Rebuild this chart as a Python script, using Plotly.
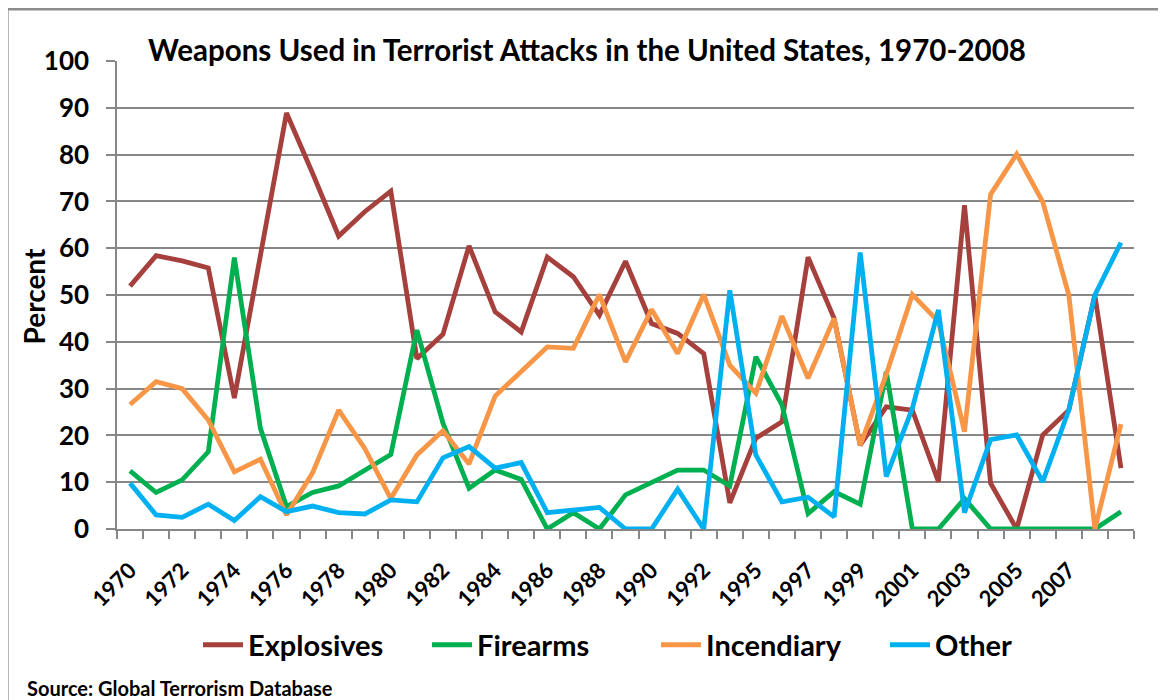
import plotly.graph_objects as go

# ---- data ----
n_points = 39
tick_labels = ["1970", "1972", "1974", "1976", "1978", "1980", "1982", "1984",
               "1986", "1988", "1990", "1992", "1995", "1997", "1999", "2001",
               "2003", "2005", "2007"]

explosives = [51.9, 58.4, 57.3, 55.8, 28.0, 58.0, 88.9, 76.0, 62.6, 67.8, 72.2, 36.4, 41.6,
              60.5, 46.4, 42.1, 58.1, 53.9, 45.7, 57.2, 43.9, 41.8, 37.5, 5.6, 19.4,
              22.9, 58.1, 45.0, 17.9, 26.1, 25.4, 10.1, 69.2, 9.8, 0.0, 20.1, 25.4, 50.0, 13.0]
firearms = [12.4, 7.8, 10.5, 16.5, 58.0, 21.5, 4.8, 7.8, 9.2, 12.6, 15.9, 42.5, 22.6,
            8.7, 12.6, 10.6, 0.0, 3.5, 0.0, 7.3, 9.9, 12.6, 12.6, 9.2, 36.8,
            26.5, 3.3, 8.0, 5.3, 33.6, 0.0, 0.0, 6.5, 0.0, 0.0, 0.0, 0.0, 0.0, 3.7]
incendiary = [26.6, 31.5, 30.0, 23.3, 12.2, 14.9, 3.0, 12.0, 25.4, 17.2, 6.5, 15.8, 21.0,
              13.9, 28.4, 33.6, 38.9, 38.6, 50.1, 35.7, 46.9, 37.5, 50.1, 35.0, 29.0,
              45.5, 32.2, 45.0, 17.9, 33.0, 50.1, 44.3, 20.8, 71.5, 80.1, 69.9, 50.0, 0.0, 22.4]
other = [9.8, 3.0, 2.5, 5.3, 1.8, 6.9, 3.7, 4.9, 3.5, 3.2, 6.2, 5.8, 15.2,
         17.6, 13.0, 14.2, 3.5, 4.1, 4.6, 0.0, 0.0, 8.5, 0.0, 51.0, 15.8,
         5.8, 6.8, 2.6, 59.1, 11.2, 25.8, 46.8, 3.5, 19.1, 20.1, 10.1, 25.4, 50.0, 61.2]

series_names = ["Explosives", "Firearms", "Incendiary", "Other"]
series_colors = ["#A5403D", "#00B050", "#F79646", "#00B0F0"]

# ---- figure ----
FONT = "Lato"
GRID = "#878787"
x = list(range(n_points))

fig = go.Figure()
for name, vals, col in zip(series_names, [explosives, firearms, incendiary, other], series_colors):
    fig.add_trace(go.Scatter(x=x, y=vals, mode="lines", name=name,
                             line=dict(color=col, width=4.8)))

# the page body has an 8px margin, so the figure is 8px smaller and margins shifted by 8px
fig.update_layout(
    width=1158, height=692,
    margin=dict(l=109, r=32, t=53, b=171),
    paper_bgcolor="white", plot_bgcolor="white",
    font=dict(family=FONT, color="black"),
    showlegend=True,
    legend=dict(orientation="h", x=0.530, xanchor="center", y=-0.2477, yanchor="middle",
                font=dict(family=FONT, size=29, weight="bold", color="black"),
                itemwidth=40, entrywidth=174, bgcolor="rgba(0,0,0,0)"),
)

fig.update_xaxes(
    range=[-0.5, n_points - 0.5],
    tickmode="array", tickvals=list(range(0, 2 * len(tick_labels), 2)), ticktext=tick_labels,
    tickangle=-45, ticks="", ticklabelstandoff=18,
    tickfont=dict(family=FONT, size=22, weight="bold", color="black"),
    showgrid=False, zeroline=False,
    showline=True, linecolor=GRID, linewidth=1.5,
    minor=dict(ticks="outside", ticklen=8, tickcolor=GRID, tickwidth=1.5,
               tick0=-0.5, dtick=1, showgrid=False),
)
fig.update_yaxes(
    range=[0, 100], dtick=10, tick0=0,
    ticks="outside", ticklen=9, tickcolor=GRID, tickwidth=1.5,
    ticklabelstandoff=12,
    tickfont=dict(family=FONT, size=26, weight="bold", color="black"),
    showgrid=True, gridcolor=GRID, gridwidth=1.5,
    zeroline=False, showline=True, linecolor=GRID, linewidth=1.5,
)

# title
fig.add_annotation(text="Weapons Used in Terrorist Attacks in the United States, 1970-2008",
                   xref="paper", yref="paper", x=0.4617, y=1.025, xanchor="center", yanchor="middle",
                   showarrow=False, font=dict(family=FONT, size=29.5, weight="bold", color="black"))
# y axis title
fig.add_annotation(text="Percent", xref="paper", yref="paper", x=-0.0813, y=0.4975,
                   xanchor="center", yanchor="middle", textangle=-90, showarrow=False,
                   font=dict(family=FONT, size=28, weight="bold", color="black"))
# source
fig.add_annotation(text="Source: Global Terrorism Database", xref="paper", yref="paper",
                   x=-0.0901, y=-0.340, xanchor="left", yanchor="middle", showarrow=False,
                   font=dict(family=FONT, size=20, weight="bold", color="black"))
# outer chart border
fig.add_shape(type="rect", xref="paper", yref="paper",
              x0=-0.1078, x1=1.0302, y0=-0.4, y1=1.1104,
              line=dict(color="#8C8C8C", width=2.5), fillcolor="rgba(0,0,0,0)", layer="below")

fig.write_html("out.html")
